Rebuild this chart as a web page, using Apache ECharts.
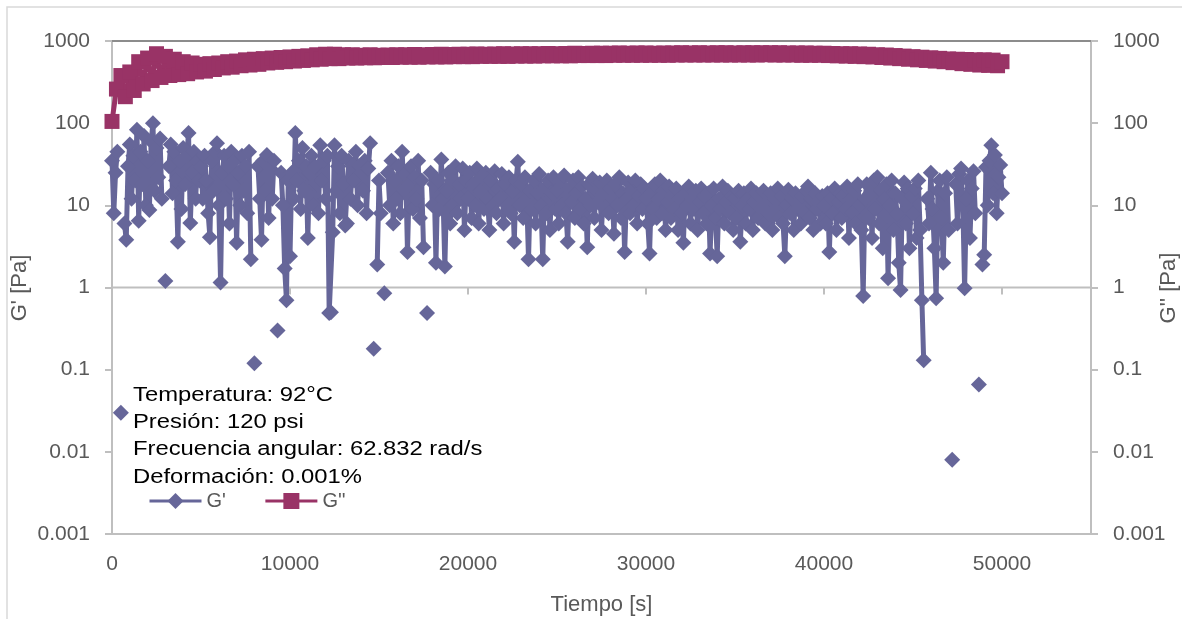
<!DOCTYPE html>
<html>
<head>
<meta charset="utf-8">
<script src="https://cdn.jsdelivr.net/npm/echarts@6/dist/echarts.min.js"></script>
<style>
  html, body { margin: 0; padding: 0; background: #ffffff; }
  #chart { width: 1182px; height: 619px; }
</style>
</head>
<body>
<div id="chart"></div>
<script>
// Oscillatory time sweep: storage modulus G' and loss modulus G'' vs time.
// Measurements are sampled at a fixed interval; null marks samples that
// cannot be shown on the logarithmic axis.

const seriesNames = ["G'", "G''"];
const axisTitles = { x: 'Tiempo [s]', left: "G' [Pa]", right: "G'' [Pa]" };

// Sampling interval (s) of each series
const gPrimeStep = 100;
const gDoublePrimeStep = 250;

// G' [Pa], one value every 100 s from 0 to 50000 s
const gPrime = [
  35, 8, 25, 45, null, 0.03, null, 6, 3.8, 30,
  55, 12, 40, 20, 83, 6.5, 45, 18, 70, 10,
  35, 8.8, 60, 100, 15, 50, 22, 65, 12, null,
  1.2, null, 30, 55, 14, 45, 20, 3.6, 35, 9,
  50, 18, 40, 76, 6.1, 25, 45, 12, 35, 20,
  30, 12, 40, 20, 8, 4.1, 35, 15, 45, 57,
  10, 1.15, 25, 40, 12, 30, 6, 45, 18, 35,
  3.5, 25, 10, 40, 15, 30, 8, 45, 2.2, null,
  0.12, null, 30, 12, 3.8, 35, 15, 41, 7, 28,
  12, 35, null, 0.3, null, 25, 10, 1.7, 0.7, 20,
  2.4, 25, 12, 76, 20, 35, 9, 50, 15, 30,
  4, 25, 40, 10, 30, 18, 8, 54, 20, 35,
  12, 40, 0.49, 0.5, 4.7, 54, 15, 30, 8, 40,
  18, 5.7, 6, 35, 12, 30, 20, 45, 10, 30,
  25, 15, 35, 8, 28, 57, null, 0.18, null, 1.9,
  20, 8, null, 0.85, null, 25, 10, 35, 6, 20,
  12, 30, 8, 45, 15, 25, 2.7, 18, 30, 9,
  22, 12, 35, 7, 20, 3.1, null, 0.49, null, 25,
  10, 18, 2, 20, 9, 36, 12, 1.8, 15, 25,
  6, 20, 10, 30, 8, 18, 12, 28, 5, 20,
  12, 25, 7, 18, 10, 28, 6, 15, 22, 9,
  25, 12, 5, 20, 10, 26, 8, 16, 12, 24,
  6, 18, 10, 22, 8, 15, 3.6, 20, 34, 10,
  18, 7, 22, 12, 2.2, 15, 9, 20, 6, 14,
  24, 10, 2.2, 16, 8, 20, 5, 14, 22, 9,
  15, 6, 20, 10, 23, 8, 3.6, 16, 11, 20,
  7, 14, 22, 9, 17, 6, 12, 3.1, 18, 10,
  21, 7, 15, 11, 19, 5, 14, 9, 20, 8,
  16, 12, 4.5, 18, 10, 22, 7, 14, 2.7, 12,
  19, 8, 15, 10, 20, 6, 13, 18, 9, 16,
  12, 6, 2.6, 14, 9, 18, 7, 12, 20, 8,
  15, 5, 11, 17, 7, 13, 9, 16, 5, 12,
  8, 3.5, 14, 10, 17, 6, 12, 9, 15, 5,
  11, 16, 8, 13, 6, 14, 2.6, 10, 16, 7,
  2.4, 12, 9, 17, 6, 11, 15, 8, 13, 5,
  12, 7, 15, 3.6, 10, 14, 6, 12, 9, 16,
  5, 11, 14, 7, 13, 9, 15, 6, 11, 8,
  14, 5, 12, 9, 16, 7, 13, 6, 2.4, 10,
  15.5, 8, 12, 5, 14, 9, 11, 6, 13, 8,
  15, 17, 7, 12, 5, 14, 9, 11, 6, 13,
  10, 6, 14, 2.7, 12, 8, 16, 5, 11, 14,
  7, 13, 9, 17, 4, 12, 8, 15, 6, 18,
  10, 5, 0.79, 12, 18, 7, 14, 4, 20, 9,
  22, 6, 15, 3, 12, 18, 1.3, 10, 20, 5,
  14, 8, 2, 0.93, 12, 19, 6, 16, 3, 13,
  8, 16, 4, 20, 5, 0.7, 0.13, null, 12, 6,
  25, 9, 3, 0.74, 15, 20, 7, 2, 14, 22,
  5, null, 0.008, null, 18, 6, 24, 28, 10, 0.98,
  12, 20, 4, 16, 26, 8, null, 0.066, null, 1.9,
  2.5, 29, 10, 35, 54, 14, 41, 8, 22, 31,
  14
];

// G'' [Pa], one value every 250 s from 0 to 50000 s
const gDoublePrime = [
  105, 260, 380, 210, 420, 250, 560, 300, 620, 330,
  700, 360, 650, 380, 600, 390, 560, 400, 540, 420,
  520, 430, 530, 450, 540, 470, 560, 480, 570, 500,
  590, 510, 600, 520, 610, 540, 620, 550, 630, 560,
  640, 570, 650, 580, 660, 590, 680, 600, 690, 610,
  690, 610, 680, 620, 680, 620, 670, 625, 680, 625,
  670, 630, 675, 630, 680, 635, 680, 635, 685, 635,
  680, 640, 685, 640, 690, 640, 685, 645, 690, 645,
  690, 645, 695, 650, 690, 650, 695, 650, 700, 650,
  695, 655, 700, 655, 700, 655, 700, 660, 705, 660,
  700, 660, 705, 660, 710, 665, 705, 665, 710, 665,
  710, 665, 710, 670, 715, 670, 710, 670, 715, 670,
  715, 670, 710, 670, 715, 670, 715, 675, 720, 675,
  715, 675, 720, 675, 715, 675, 720, 675, 720, 675,
  715, 675, 720, 675, 720, 675, 720, 680, 720, 675,
  720, 675, 715, 675, 715, 670, 715, 670, 710, 670,
  710, 665, 705, 660, 700, 655, 700, 650, 695, 645,
  690, 640, 680, 630, 675, 620, 665, 610, 655, 600,
  645, 590, 635, 580, 625, 570, 615, 560, 605, 545,
  600, 530, 595, 520, 590, 510, 590, 505, 585, 500,
  560
];

// Axis ticks
const timeMax = 55000;
const timeTickStep = 10000;
const timeTicks = [0, 10000, 20000, 30000, 40000, 50000];
const modulusTickLabels = ['0.001', '0.01', '0.1', '1', '10', '100', '1000'];
const modulusMin = 0.001;
const modulusMax = 1000;
const timeAxisCrossing = 1;   // the time axis crosses the modulus axis at 1 Pa

// Conditions of the test
const conditionLines = [
  'Temperatura: 92°C',
  'Presión: 120 psi',
  'Frecuencia angular: 62.832 rad/s',
  'Deformación: 0.001%'
];

const colorGp = '#666699';
const colorGpp = '#993366';
const textGray = '#595959';
const axisGray = '#bfbfbf';
const frameGray = '#8c8c8c';
const fontFamily = '"Liberation Sans", Arial, sans-serif';

const gpData = gPrime.map((v, i) => [i * gPrimeStep, v]);
const gppData = gDoublePrime.map((v, i) => [i * gDoublePrimeStep, v]);

const logLabel = (value) => {
  const idx = Math.round(Math.log10(value)) + 3;
  return modulusTickLabels[idx] !== undefined ? modulusTickLabels[idx] : '';
};

const chart = echarts.init(document.getElementById('chart'), null, { renderer: 'canvas' });

const yBase = {
  type: 'log',
  logBase: 10,
  min: modulusMin,
  max: modulusMax,
  splitNumber: 6,
  splitLine: { show: false },
  axisLine: { show: true, lineStyle: { color: axisGray, width: 2 } },
  axisTick: { show: true, inside: false, length: 7, lineStyle: { color: axisGray, width: 2 } },
  axisLabel: {
    color: textGray, fontFamily: fontFamily, fontSize: 21, margin: 22,
    formatter: logLabel
  }
};

const titleStyle = {
  fill: textGray,
  font: '22px ' + fontFamily,
  align: 'center',
  verticalAlign: 'middle'
};

// Time axis line drawn across the plot at the crossing value, with its
// outward ticks, plus the lower frame of the plot area.
function renderTimeAxis(params, api) {
  const t = api.value(0);
  const p = api.coord([t, timeAxisCrossing]);
  const lineStyle = { stroke: axisGray, lineWidth: 2 };
  const children = [{
    type: 'line',
    shape: { x1: p[0], y1: p[1], x2: p[0], y2: p[1] + 7 },
    style: lineStyle
  }];
  if (params.dataIndex === 0) {
    const a = api.coord([0, timeAxisCrossing]);
    const b = api.coord([timeMax, timeAxisCrossing]);
    children.push({ type: 'line', shape: { x1: a[0], y1: a[1], x2: b[0], y2: b[1] }, style: lineStyle });
    const c = api.coord([0, modulusMin]);
    const d = api.coord([timeMax, modulusMin]);
    children.push({ type: 'line', shape: { x1: c[0], y1: c[1], x2: d[0], y2: d[1] }, style: lineStyle });
  }
  return { type: 'group', children: children };
}

chart.setOption({
  animation: false,
  backgroundColor: '#ffffff',
  textStyle: { fontFamily: fontFamily },
  grid: [{ left: 112, right: 91, top: 41, bottom: 85, containLabel: false, outerBoundsMode: 'none' }],
  legend: {
    data: seriesNames,
    left: 143,
    top: 486,
    itemWidth: 52,
    itemHeight: 20,
    itemGap: 38,
    lineStyle: { width: 3 },
    textStyle: { color: textGray, fontFamily: fontFamily, fontSize: 20 }
  },
  xAxis: [{
    type: 'value',
    min: 0,
    max: timeMax,
    interval: timeTickStep,
    position: 'bottom',
    splitLine: { show: false },
    name: axisTitles.x,
    nameLocation: 'middle',
    nameGap: 60,
    nameTextStyle: { color: textGray, fontFamily: fontFamily, fontSize: 22 },
    axisLine: { show: true, onZero: false, lineStyle: { color: axisGray, width: 2 } },
    axisTick: { show: false },
    axisLabel: {
      color: textGray, fontFamily: fontFamily, fontSize: 21, margin: 20, showMaxLabel: false,
      formatter: (value) => String(value)
    }
  }],
  yAxis: [
    Object.assign({}, yBase, { position: 'left' }),
    Object.assign({}, yBase, { position: 'right' })
  ],
  graphic: [
    {
      type: 'rect',
      silent: true,
      shape: { x: 7, y: 7, width: 1240, height: 700 },
      style: { fill: 'none', stroke: '#d9d9d9', lineWidth: 1.5 },
      z: 0
    },
    {
      type: 'text', silent: true, x: 20, y: 288, rotation: Math.PI / 2,
      style: Object.assign({ text: axisTitles.left }, titleStyle)
    },
    {
      type: 'text', silent: true, x: 1169, y: 288, rotation: Math.PI / 2,
      style: Object.assign({ text: axisTitles.right }, titleStyle)
    },
    {
      type: 'text',
      x: 133,
      y: 381.5,
      scaleX: 1.19,
      silent: true,
      z: 100,
      style: {
        text: conditionLines.join('\n'),
        fill: '#000000',
        font: '20px ' + fontFamily,
        lineHeight: 27.3,
        verticalAlign: 'top',
        align: 'left'
      }
    }
  ],
  series: [
    {
      type: 'custom',
      name: 'timeAxis',
      xAxisIndex: 0,
      yAxisIndex: 0,
      data: timeTicks.map((t) => [t]),
      renderItem: renderTimeAxis,
      silent: true,
      clip: false,
      z: 1
    },
    {
      name: seriesNames[0],
      type: 'line',
      xAxisIndex: 0,
      yAxisIndex: 0,
      data: gpData,
      connectNulls: false,
      symbol: 'diamond',
      symbolSize: 16,
      showAllSymbol: true,
      sampling: null,
      itemStyle: { color: colorGp, borderWidth: 0 },
      lineStyle: { color: colorGp, width: 5 },
      emphasis: { disabled: true },
      z: 3
    },
    {
      name: seriesNames[1],
      type: 'line',
      xAxisIndex: 0,
      yAxisIndex: 1,
      data: gppData,
      symbol: 'rect',
      symbolSize: 15,
      showAllSymbol: true,
      itemStyle: { color: colorGpp, borderWidth: 0 },
      lineStyle: { color: colorGpp, width: 5 },
      emphasis: { disabled: true },
      // upper frame of the plot area
      markLine: {
        silent: true,
        symbol: 'none',
        label: { show: false },
        lineStyle: { color: frameGray, width: 2, type: 'solid' },
        data: [{ yAxis: modulusMax }]
      },
      z: 2
    }
  ]
});
</script>
</body>
</html>
